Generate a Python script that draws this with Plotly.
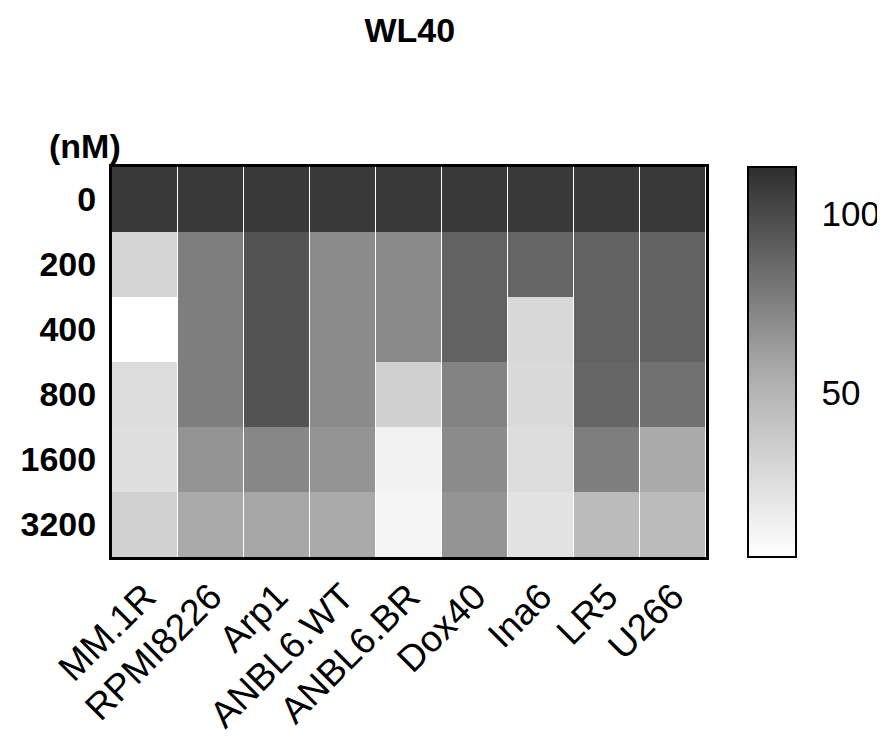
import plotly.graph_objects as go

cell_lines = ["MM.1R", "RPMI8226", "Arp1", "ANBL6.WT", "ANBL6.BR", "Dox40", "Ina6", "LR5", "U266"]
doses = ["0", "200", "400", "800", "1600", "3200"]

# viability (%) rows = doses, columns = cell lines
v_0    = [108, 108, 108, 108, 108, 108, 108, 108, 108]
v_200  = [30, 76, 96, 70, 71, 89, 87, 89, 89]
v_400  = [4, 76, 96, 70, 71, 89, 28, 89, 89]
v_800  = [25, 76, 96, 70, 33, 74, 27, 87, 82]
v_1600 = [24, 66, 72, 66, 12, 70, 25, 76, 56]
v_3200 = [32, 56, 57, 56, 10, 66, 22, 46, 46]
z = [v_0, v_200, v_400, v_800, v_1600, v_3200]

fig = go.Figure(go.Heatmap(
    z=z, x=cell_lines, y=doses,
    zmin=4, zmax=113,
    colorscale=[[0, "#ffffff"], [0.45, "#b0b0b0"], [1, "#2e2e2e"]],
    xgap=1,
    colorbar=dict(
        x=1.0702, xanchor="left", xref="paper", xpad=0,
        y=0.5, yanchor="middle", len=1.0, lenmode="fraction", ypad=0,
        thickness=48, outlinewidth=2, outlinecolor="black",
        tickvals=[50, 100], ticks="outside", ticklen=18, tickcolor="white",
        tickfont=dict(family="Arial", size=35, color="black"),
    ),
))

fig.update_layout(
    width=885, height=744,
    margin=dict(l=104, r=183, t=159, b=195),
    paper_bgcolor="white", plot_bgcolor="white",
    title=dict(text="<b>WL40</b>", x=0.454, xanchor="center", xref="container",
               y=0.97, yanchor="middle", yref="container",
               font=dict(family="Arial", size=34, color="black")),
    font=dict(family="Arial", color="black"),
)
fig.update_xaxes(tickangle=-45, tickfont=dict(size=37, family="Arial"), automargin=False,
                 showline=True, linecolor="black", linewidth=3, mirror=True, ticks="")
fig.update_yaxes(autorange="reversed", automargin=False,
                 tickfont=dict(size=34, family="Arial", weight="bold"),
                 showline=True, linecolor="black", linewidth=3, mirror=True, ticks="",
                 ticklabelstandoff=6)
fig.add_annotation(text="<b>(nM)</b>", xref="paper", yref="paper", x=-0.046, y=1.0,
                   xanchor="center", yanchor="bottom", showarrow=False,
                   font=dict(size=34, family="Arial", color="black"))

fig.write_html("out.html")
